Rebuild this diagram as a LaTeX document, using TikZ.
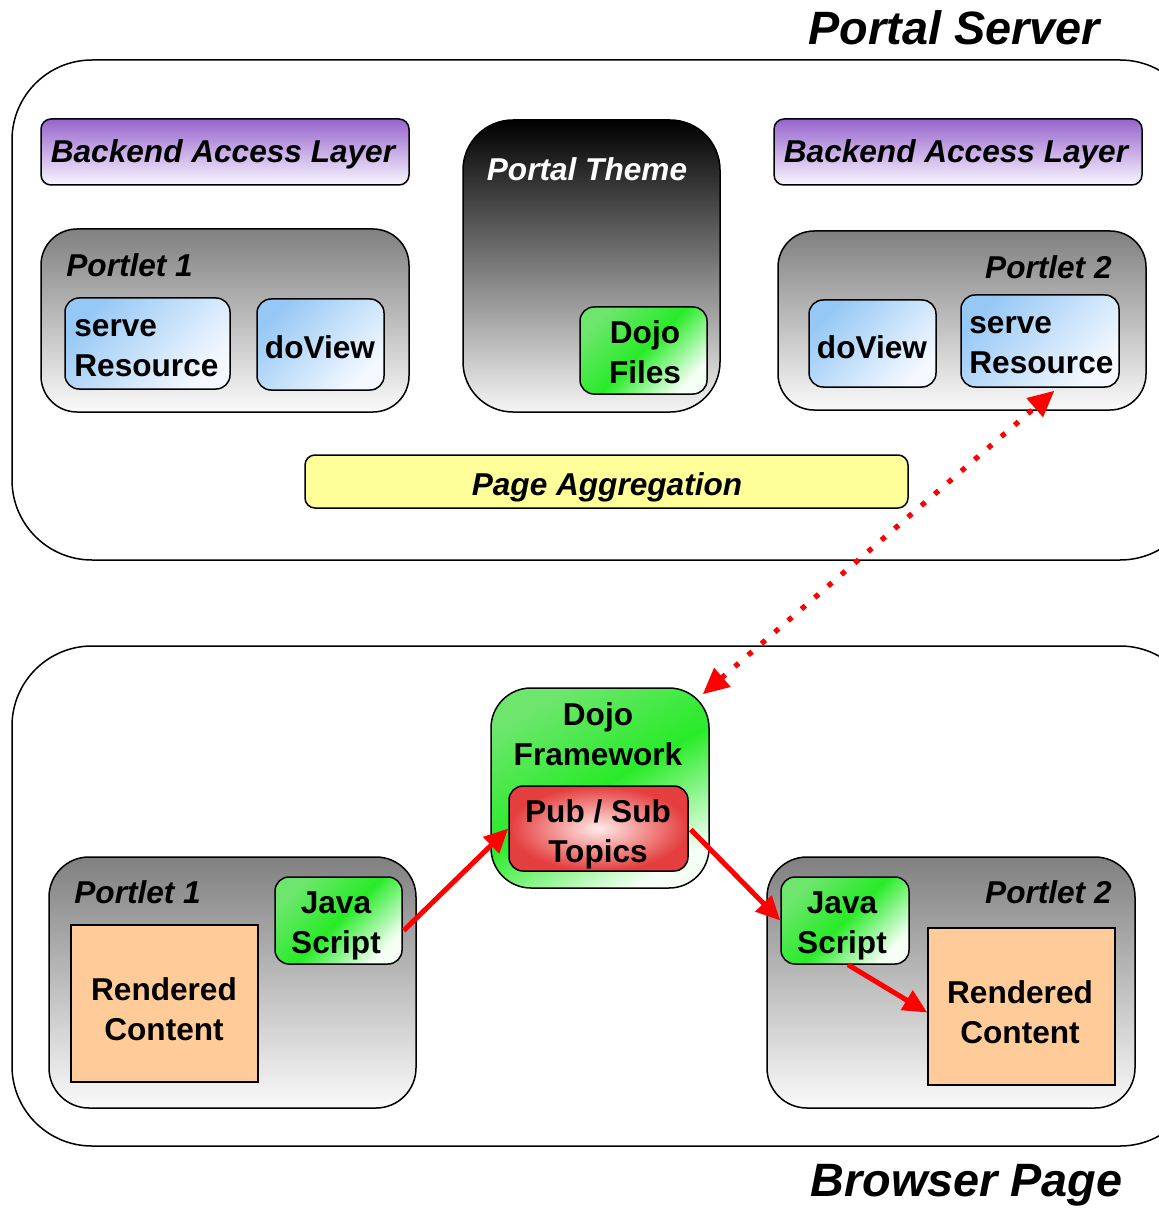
\documentclass[tikz,border=0pt]{standalone}
\usepackage{fontspec}
\setmainfont{Liberation Sans}
\usetikzlibrary{fit,arrows.meta,calc}
\definecolor{purpleT}{RGB}{150,100,205}
\definecolor{purpleB}{RGB}{250,246,255}
\definecolor{grayT}{RGB}{128,128,128}
\definecolor{grayB}{RGB}{250,250,250}
\definecolor{blueT}{RGB}{150,200,245}
\definecolor{blueB}{RGB}{245,249,255}
\definecolor{greenT}{RGB}{110,230,110}
\definecolor{greenM}{RGB}{40,235,40}
\definecolor{greenB}{RGB}{245,255,245}
\definecolor{aggY}{RGB}{255,255,153}
\definecolor{peach}{RGB}{255,204,153}
\definecolor{pubIn}{RGB}{255,235,232}
\definecolor{pubOut}{RGB}{228,62,62}
\definecolor{themeB}{RGB}{245,245,245}
\begin{document}
\begin{tikzpicture}[x=0.5pt,y=-0.5pt,
  box/.style={draw=black, line width=0.75pt, inner sep=0pt},
  outerbox/.style={box, fill=white, rounded corners=40pt},
  bal/.style={box, rounded corners=5pt, top color=purpleT, bottom color=purpleB},
  portlet/.style={box, rounded corners=18pt, top color=grayT, bottom color=grayB},
  bluebox/.style={box, rounded corners=7pt, top color=blueT, bottom color=blueB, shading angle=45},
  greenbox/.style={box, rounded corners=7pt, top color=greenT, bottom color=greenB, middle color=greenM, shading angle=45},
  greenbig/.style={box, rounded corners=20pt, top color=greenT, bottom color=greenB, middle color=greenM, shading angle=30},
  themebox/.style={box, rounded corners=25pt, top color=black, bottom color=themeB},
  aggbox/.style={box, rounded corners=5pt, fill=aggY},
  pubbox/.style={box, rounded corners=7pt, shading=radial, inner color=pubIn, outer color=pubOut},
  rendbox/.style={box, fill=peach},
  txt/.style={inner sep=0pt, align=center, anchor=base, font=\fontsize{15.8}{20}\selectfont\bfseries},
  itxt/.style={inner sep=0pt, anchor=base, font=\fontsize{15.8}{20}\selectfont\bfseries\itshape},
  title/.style={inner sep=0pt, anchor=base west, font=\fontsize{23.4}{28}\selectfont\bfseries\itshape},
  redarrow/.style={draw=red, line width=2.5pt, -{Triangle[length=12pt,width=11pt]}},
  dotarrow/.style={draw=red, line width=2.6pt, dash pattern=on 2.6pt off 6.2pt,
     {Triangle[length=13pt,width=12pt]}-{Triangle[length=13pt,width=12pt]}}
]
\useasboundingbox (0,0) rectangle (1159,1208);
\clip (0,0) rectangle (1159,1208);

% outer containers
\node[outerbox, fit={(12,60) (1200,560)}] (ps) {};
\node[outerbox, fit={(12,646) (1200,1146)}] (bp) {};
\node[title] (pstitle) at (808,45) {Portal Server};
\node[title] (bptitle) at (810,1196) {Browser Page};

% portal server contents
\node[bal, fit={(41,119) (409,185)}] (bal1) {};
\node[itxt] (bal1t) at (223,163) {Backend Access Layer};
\node[bal, fit={(774,119) (1142,185)}] (bal2) {};
\node[itxt] (bal2t) at (956,163) {Backend Access Layer};

\node[portlet, fit={(41,229) (409,412)}] (p1s) {};
\node[itxt, anchor=base west] (p1st) at (66,277) {Portlet 1};
\node[bluebox, fit={(65,298) (230,389)}] (sr1) {};
\node[txt, align=left, anchor=base west] (sr1t) at (74,376) {serve\\Resource};
\node[bluebox, fit={(257,299) (384,390)}] (dv1) {};
\node[txt] (dv1t) at (320,358) {doView};

\node[themebox, fit={(463,120) (720,412)}] (theme) {};
\node[itxt, text=white] (themet) at (587,181) {Portal Theme};
\node[greenbox, fit={(580,307) (707,394)}] (df) {};
\node[txt] (dft) at (645,383) {Dojo\\Files};

\node[portlet, fit={(778,231) (1146,410)}] (p2s) {};
\node[itxt, anchor=base east] (p2st) at (1112,279) {Portlet 2};
\node[bluebox, fit={(809,300) (936,387)}] (dv2) {};
\node[txt] (dv2t) at (872,358) {doView};
\node[bluebox, fit={(961,295) (1119,387)}] (sr2) {};
\node[txt, align=left, anchor=base west] (sr2t) at (969,373) {serve\\Resource};

\node[aggbox, fit={(305,455) (908,508)}] (agg) {};
\node[itxt] (aggt) at (607,495) {Page Aggregation};

% browser page contents
\node[greenbig, fit={(491,688) (709,888)}] (dfw) {};
\node[txt] (dfwt) at (598,765) {Dojo\\Framework};
\node[pubbox, fit={(509,786) (688,871)}] (pub) {};
\node[txt] (pubt) at (598,862) {Pub / Sub\\Topics};

\node[portlet, rounded corners=20pt, fit={(49,857) (416,1108)}] (p1b) {};
\node[itxt, anchor=base west] (p1bt) at (74,903) {Portlet 1};
\node[greenbox, fit={(275,877) (402,964)}] (js1) {};
\node[txt] (js1t) at (336,953) {Java\\Script};
\node[rendbox, fit={(71,925) (258,1082)}] (rc1) {};
\node[txt] (rc1t) at (164,1040) {Rendered\\Content};

\node[portlet, rounded corners=20pt, fit={(767,857) (1135,1108)}] (p2b) {};
\node[itxt, anchor=base east] (p2bt) at (1112,903) {Portlet 2};
\node[greenbox, fit={(781,877) (909,964)}] (js2) {};
\node[txt] (js2t) at (842,953) {Java\\Script};
\node[rendbox, fit={(928,928) (1115,1085)}] (rc2) {};
\node[txt] (rc2t) at (1020,1043) {Rendered\\Content};

% connectors
\draw[dotarrow] ($(dfw.north east)+(-7,7)$) -- ($(sr2.south west)!0.59!(sr2.south east)+(0,3)$);
\draw[redarrow] ($(js1.east)+(1,10)$) -- (pub.west);
\draw[redarrow] ($(pub.east)+(2,1)$) -- (js2.west);
\draw[redarrow] ($(js2.south)+(3,0)$) -- ($(rc2.west)+(0,6)$);
\end{tikzpicture}
\end{document}
